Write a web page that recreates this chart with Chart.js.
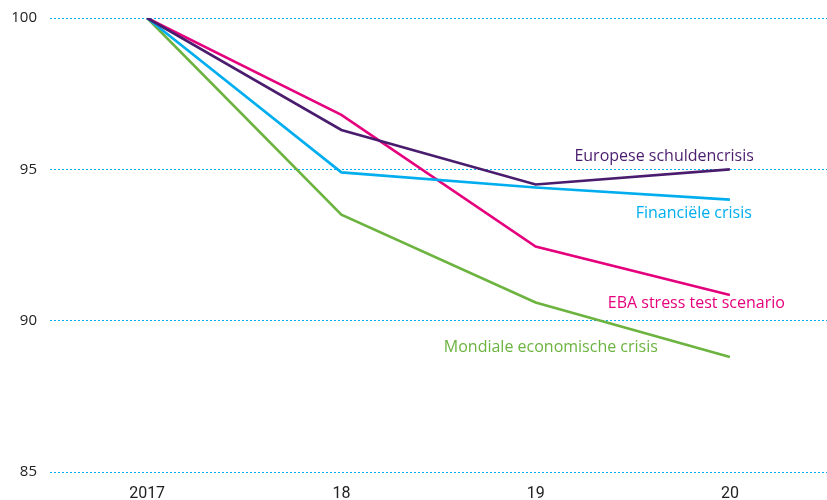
<!DOCTYPE html>
<html><head><meta charset="utf-8">
<script src="https://cdn.jsdelivr.net/npm/chart.js@4/dist/chart.umd.min.js"></script>
<style>html,body{margin:0;padding:0;background:#fff}#w{width:827px;height:500px}</style>
</head><body><div id="w"><canvas id="c"></canvas></div>
<script>
const categories = ['2017', '18', '19', '20'];
const europese = [100, 96.3, 94.5, 95.0];
const financiele = [100, 94.9, 94.4, 94.0];
const eba = [100, 96.8, 92.45, 90.85];
const mondiale = [100, 93.5, 90.6, 88.8];
const yTicks = [85, 90, 95, 100];
const seriesLabels = ['Europese schuldencrisis', 'Financiële crisis', 'EBA stress test scenario', 'Mondiale economische crisis'];
const colors = ['#4a1c6e', '#00aeef', '#e5007d', '#6cb33f'];

// label anchoring: [category index, value, dx, dy]
const labelAnchors = [
  [3, 95.0, 24, -13],
  [3, 94.0, 22, 14],
  [3, 90.85, 55, 8],
  [3, 88.8, -72, -10]
];

const labelPlugin = {
  id: 'seriesLabels',
  afterDatasetsDraw(chart) {
    const ctx = chart.ctx, xs = chart.scales.x, ys = chart.scales.y;
    ctx.save();
    ctx.font = '16px "Open Sans", sans-serif';
    ctx.textAlign = 'right';
    ctx.textBaseline = 'middle';
    labelAnchors.forEach((a, i) => {
      ctx.fillStyle = colors[i];
      ctx.fillText(seriesLabels[i], xs.getPixelForValue(a[0]) + a[2], ys.getPixelForValue(a[1]) + a[3]);
    });
    ctx.restore();
  }
};

const data = [europese, financiele, eba, mondiale];
new Chart(document.getElementById('c'), {
  type: 'line',
  data: {
    labels: categories,
    datasets: data.map((d, i) => ({
      label: seriesLabels[i], data: d, borderColor: colors[i], borderWidth: 2.6,
      pointRadius: 0, pointHoverRadius: 0, tension: 0, fill: false
    }))
  },
  options: {
    responsive: true, maintainAspectRatio: false, animation: false,
    layout: { autoPadding: false, padding: { top: 18, right: 0, left: 0, bottom: 0 } },
    plugins: { legend: { display: false }, tooltip: { enabled: false } },
    scales: {
      x: {
        offset: true,
        afterFit(s) { s.height = 28; },
        grid: { display: false },
        border: { display: false },
        ticks: { color: '#222', font: { family: '"Liberation Sans Narrow", "Roboto", sans-serif', size: 16 }, padding: 4 }
      },
      y: {
        min: 85, max: 100,
        afterBuildTicks(s) { s.ticks = yTicks.map(v => ({ value: v })); },
        afterFit(s) { s.width = 50; s.paddingTop = 0; s.paddingBottom = 0; },
        grid: { color: '#00aeef', lineWidth: 1, drawTicks: false },
        border: { display: false, dash: [2, 2] },
        ticks: { color: '#222', font: { family: '"Open Sans", sans-serif', size: 15 }, padding: 13 }
      }
    }
  },
  plugins: [labelPlugin]
});
</script></body></html>
